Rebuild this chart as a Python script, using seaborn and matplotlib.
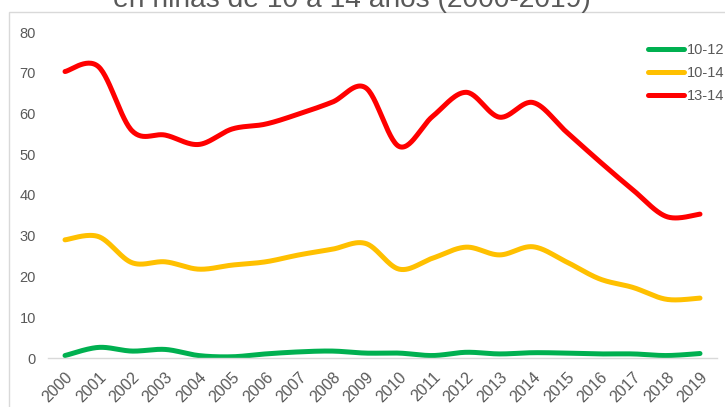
import numpy as np
import pandas as pd
import matplotlib
matplotlib.use("Agg")
import matplotlib.pyplot as plt
import seaborn as sns
from matplotlib.patches import Rectangle

years = list(range(2000, 2020))
serie_10_12 = [0.6, 2.6, 1.7, 2.1, 0.6, 0.3, 1.0, 1.5, 1.7, 1.2,
               1.2, 0.6, 1.4, 1.0, 1.3, 1.2, 1.0, 1.0, 0.6, 1.1]
serie_10_14 = [29.0, 29.8, 23.4, 23.6, 21.8, 22.8, 23.6, 25.3, 26.7, 28.1,
               21.8, 24.5, 27.2, 25.3, 27.3, 23.6, 19.4, 17.3, 14.4, 14.7]
serie_13_14 = [70.3, 71.5, 55.8, 54.7, 52.4, 56.2, 57.4, 59.9, 62.8, 66.3,
               51.9, 59.3, 65.2, 59.1, 62.7, 55.5, 48.2, 41.2, 34.7, 35.3]
series_names = ["10-12", "10-14", "13-14"]
colors = ["#00B050", "#FFC000", "#FF0000"]
title_text = "en niñas de 10 a 14 años (2000-2019)"

W, H = 725, 407
GRAY = "#595959"


def smooth(xs, ys, n=30):
    """Excel-like smoothed line (Catmull-Rom Bezier) between the data points."""
    P = np.column_stack([xs, ys]).astype(float)
    out = []
    m = len(P)
    for i in range(m - 1):
        p0 = P[i - 1] if i > 0 else P[i]
        p1, p2 = P[i], P[i + 1]
        p3 = P[i + 2] if i + 2 < m else P[i + 1]
        c1 = p1 + (p2 - p0) / 6.0
        c2 = p2 - (p3 - p1) / 6.0
        t = np.linspace(0, 1, n, endpoint=(i == m - 2))[:, None]
        b = ((1 - t) ** 3) * p1 + 3 * ((1 - t) ** 2) * t * c1 + 3 * (1 - t) * t ** 2 * c2 + t ** 3 * p2
        out.append(b)
    return np.vstack(out)


frames = []
for name, vals in zip(series_names, [serie_10_12, serie_10_14, serie_13_14]):
    pts = smooth(years, vals)
    frames.append(pd.DataFrame({"x": pts[:, 0], "y": pts[:, 1], "serie": name}))
df = pd.concat(frames, ignore_index=True)

sns.set_theme(style="white")
plt.rcParams["font.family"] = ["Liberation Sans", "DejaVu Sans"]

fig = plt.figure(figsize=(W / 100, H / 100), dpi=100)
ax = fig.add_axes([48.3 / W, 1 - 358 / H, (716.7 - 48.3) / W, (358 - 32) / H])

sns.lineplot(data=df, x="x", y="y", hue="serie", palette=dict(zip(series_names, colors)),
             hue_order=series_names, linewidth=3.6, sort=False, estimator=None, ax=ax)

ax.set_xlim(years[0] - 0.5, years[-1] + 0.5)
ax.set_ylim(0, 80)
ax.set_xticks(years)
ax.set_xticklabels([str(y) for y in years], rotation=45, ha="right",
                   rotation_mode="anchor", color=GRAY, fontsize=11.5)
ax.set_yticks(range(0, 81, 10))
ax.set_yticklabels([str(v) for v in range(0, 81, 10)], color=GRAY, fontsize=10.5)
ax.tick_params(axis="y", length=0, pad=9)
ax.tick_params(axis="x", length=0, pad=8)
ax.set_xlabel("")
ax.set_ylabel("")
for s in ["left", "right", "top"]:
    ax.spines[s].set_visible(False)
ax.spines["bottom"].set_color("#D9D9D9")
ax.spines["bottom"].set_linewidth(1.0)
ax.set_facecolor("none")
ax.grid(False)

old = ax.get_legend()
handles = old.legend_handles
labels = [t.get_text() for t in old.get_texts()]
old.remove()
for h in handles:
    h.set_linewidth(3.6)
leg = ax.legend(handles, labels, loc="upper right", bbox_to_anchor=(724 / W, 1 - 43 / H),
                bbox_transform=fig.transFigure, frameon=False, fontsize=10.5,
                handlelength=2.5, handletextpad=0.15, labelspacing=0.62, borderpad=0,
                borderaxespad=0)
for t in leg.get_texts():
    t.set_color(GRAY)

# chart frame
fig.patches.append(Rectangle((9 / W, -0.1), 1.0, 1 - 12 / H + 0.1, transform=fig.transFigure,
                             fill=False, edgecolor="#D9D9D9", linewidth=1.0, zorder=0))

# title (only its lower part is visible in the reference)
title = fig.text(352 / W, 1 - 7 / H, title_text, ha="center", va="baseline",
                 fontsize=18, color=GRAY)
fig.canvas.draw()
wpx = title.get_window_extent().width
title.set_fontsize(18 * 479 / wpx)

fig.savefig("out.png", dpi=100)
